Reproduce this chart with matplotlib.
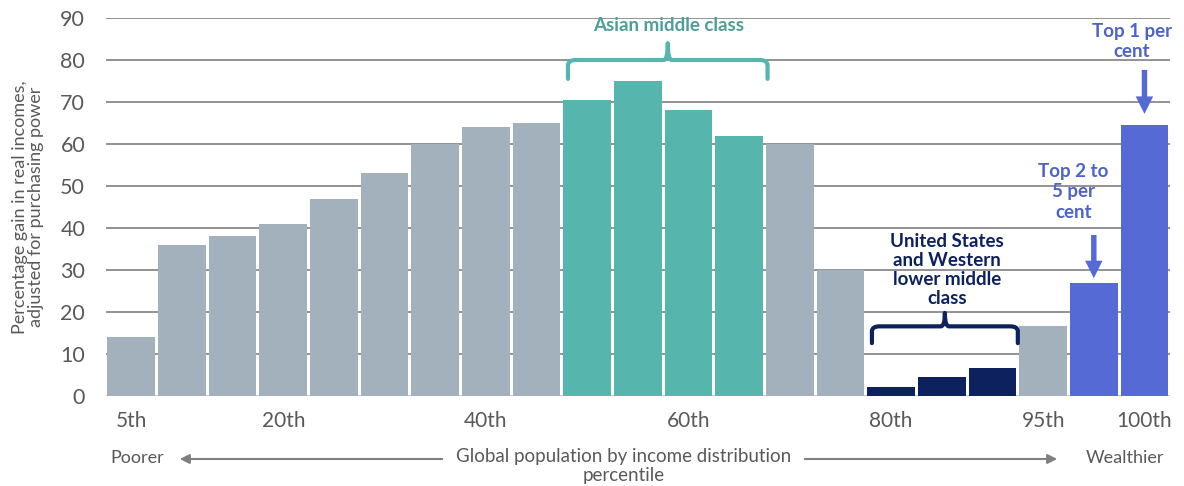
import matplotlib
matplotlib.use("Agg")
import matplotlib.pyplot as plt
from matplotlib.path import Path
from matplotlib.patches import PathPatch, FancyArrowPatch

plt.rcParams['font.family'] = ['Lato', 'DejaVu Sans']

# Global income growth by percentile of the income distribution
percentiles = ['5th', '10th', '15th', '20th', '25th', '30th', '35th', '40th', '45th',
               '50th', '55th', '60th', '65th', '70th', '75th', '80th', '85th', '90th',
               '95th', '99th', '100th']
gains = [14, 36, 38, 41, 47, 53, 60, 64, 65, 70.5, 75, 68, 62, 60, 30,
         2.2, 4.5, 6.7, 16.6, 27, 64.6]
groups = ['other'] * 9 + ['asia'] * 4 + ['other'] * 2 + ['west'] * 3 + ['other'] + ['top'] * 2
shown_ticks = ['5th', '20th', '40th', '60th', '80th', '95th', '100th']
y_ticks = [0, 10, 20, 30, 40, 50, 60, 70, 80, 90]

palette = {'other': '#a3b1bc', 'asia': '#56b6ae', 'west': '#0c215e', 'top': '#556ad4'}
teal_text = '#4f9e98'
navy_text = '#0c215e'
blue_text = '#4d63c9'
grey_text = '#595959'

fig = plt.figure(figsize=(11.84, 4.86), dpi=100)
ax = fig.add_axes([0.0895, 0.185, 0.8985, 0.778])

x = list(range(len(gains)))
ax.bar(x, gains, width=0.94, color=[palette[g] for g in groups], zorder=2)

ax.set_xlim(-0.5, len(gains) - 0.5)
ax.set_ylim(0, 90)
ax.set_yticks(y_ticks)
ax.set_yticklabels([str(t) for t in y_ticks], fontsize=15.5, color=grey_text)
for t in y_ticks:
    ax.axhline(t, color='#c4c4c4' if t == 0 else '#8a8a8a', lw=1.3, zorder=1)
ax.set_xticks([percentiles.index(p) for p in shown_ticks])
ax.set_xticklabels(shown_ticks, fontsize=15, color=grey_text)
ax.tick_params(axis='both', length=0)
ax.tick_params(axis='x', pad=11)
ax.tick_params(axis='y', pad=15)
for s in ax.spines.values():
    s.set_visible(False)

ax.set_ylabel('Percentage gain in real incomes,\nadjusted for purchasing power',
              fontsize=13, color=grey_text, linespacing=1.0, labelpad=12)


def brace(ax, x0, x1, y_end, y_bar, y_tip, color):
    xm = (x0 + x1) / 2
    r = 0.15
    dy = (y_bar - y_end)
    verts = [
        (x0, y_end), (x0, y_bar - dy * 0.3), (x0, y_bar), (x0 + r, y_bar),
        (xm - 0.08, y_bar), (xm, y_bar), (xm, y_tip),
        (xm, y_bar), (xm + 0.08, y_bar),
        (x1 - r, y_bar), (x1, y_bar), (x1, y_bar - dy * 0.3), (x1, y_end),
    ]
    codes = [Path.MOVETO, Path.LINETO, Path.CURVE3, Path.CURVE3,
             Path.LINETO, Path.CURVE3, Path.CURVE3,
             Path.CURVE3, Path.CURVE3,
             Path.LINETO, Path.CURVE3, Path.CURVE3, Path.LINETO]
    ax.add_patch(PathPatch(Path(verts, codes), fill=False, edgecolor=color,
                           lw=3, capstyle='round', joinstyle='round',
                           clip_on=False, zorder=4))


brace(ax, 8.62, 12.56, 75.5, 80.0, 84.0, '#56b6ae')
ax.text(10.6, 88.3, 'Asian middle class', ha='center', va='center',
        fontsize=13.5, fontweight='bold', color=teal_text)

brace(ax, 14.62, 17.5, 12.6, 16.6, 19.8, navy_text)
ax.text(16.1, 30, 'United States\nand Western\nlower middle\nclass', ha='center',
        va='center', fontsize=13.5, fontweight='bold', color=navy_text, linespacing=1.15)

ax.text(18.6, 48.6, 'Top 2 to\n5 per\ncent', ha='center', va='center',
        fontsize=13.5, fontweight='bold', color=blue_text, linespacing=1.25)
ax.text(19.75, 84.4, 'Top 1 per\ncent', ha='center', va='center',
        fontsize=13.5, fontweight='bold', color=blue_text, linespacing=1.25)

for xa, y_start, y_stop in [(19, 39.0, 27.4), (20, 78.3, 66.5)]:
    ax.add_patch(FancyArrowPatch((xa, y_start), (xa, y_stop),
                                 arrowstyle='simple,head_width=0.9,head_length=0.9,tail_width=0.28',
                                 mutation_scale=14, color='#556ad4', lw=0,
                                 clip_on=False, zorder=4))

# Direction-of-wealth caption row under the axis
fig.text(110 / 1184, 1 - 458 / 486, 'Poorer', ha='left', va='center',
         fontsize=13, color=grey_text)
fig.text(1125 / 1184, 1 - 458 / 486, 'Wealthier', ha='center', va='center',
         fontsize=13, color=grey_text)
fig.text(624 / 1184, 1 - 466 / 486, 'Global population by income distribution\npercentile',
         ha='center', va='center', fontsize=13.5, color=grey_text, linespacing=1.2)
yy = 1 - 459 / 486
fig.add_artist(FancyArrowPatch((445 / 1184, yy), (177 / 1184, yy),
                               transform=fig.transFigure, arrowstyle='-|>',
                               mutation_scale=14, color='#7f7f7f', lw=1.5))
fig.add_artist(FancyArrowPatch((802 / 1184, yy), (1060 / 1184, yy),
                               transform=fig.transFigure, arrowstyle='-|>',
                               mutation_scale=14, color='#7f7f7f', lw=1.5))

fig.savefig('out.png', dpi=100)
